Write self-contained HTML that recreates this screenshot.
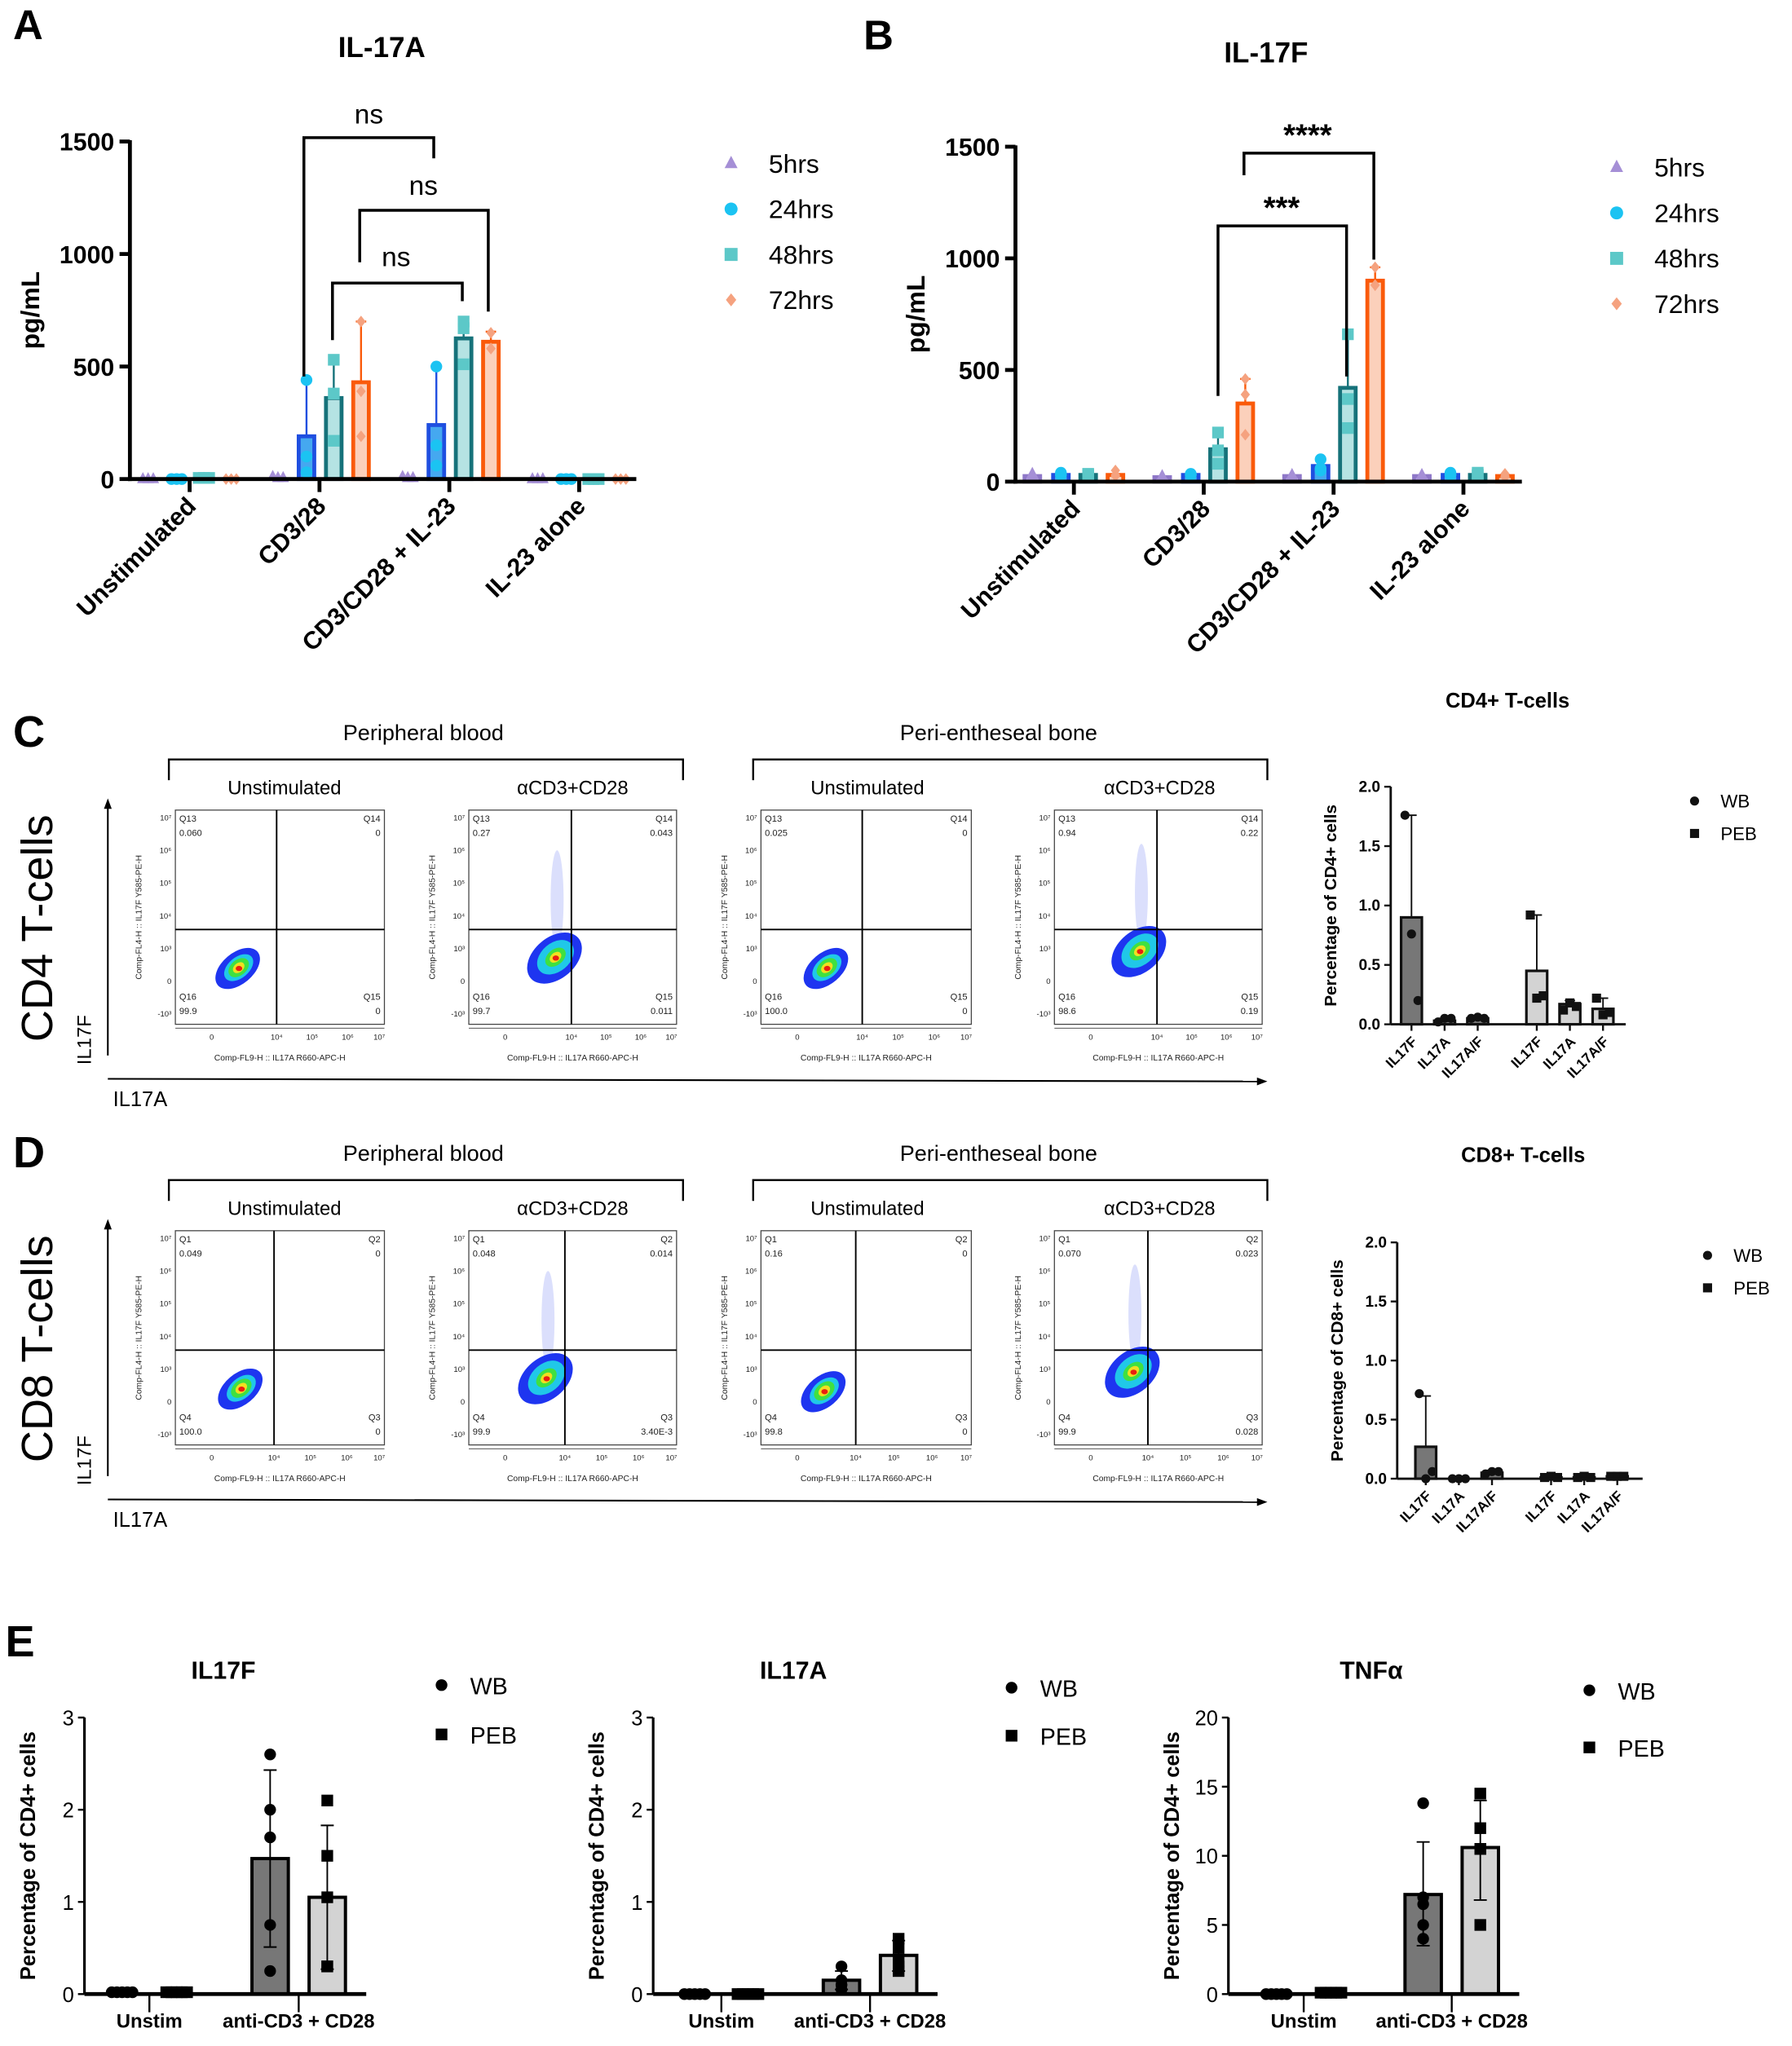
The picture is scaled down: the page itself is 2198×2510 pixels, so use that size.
<!DOCTYPE html>
<html><head><meta charset="utf-8"><style>
html,body{margin:0;padding:0;background:#fff;}
svg{display:block;}
text{font-family:"Liberation Sans",sans-serif;}
</style></head><body>
<svg id="fig" xmlns="http://www.w3.org/2000/svg" width="2198" height="2510" viewBox="0 0 1380 1576">
<rect x="0" y="0" width="1380" height="1576" fill="#fff"/>
</svg>
<script>
// ---------- Panel A data ----------
const aCats = ['Unstimulated','CD3/28','CD3/CD28 + IL-23','IL-23 alone'];
const aSeries = ['5hrs','24hrs','48hrs','72hrs'];
const aMeans = [[0,0,0,0],[0,190,240,0],[0,360,625,0],[0,430,610,0]];
const aErrTop = [[0,0,0,0],[0,440,505,0],[0,530,690,0],[0,700,655,0]];
const aPts = [
  [[0,0,0],[10,5,5],[10,5,5],[0,0,0]],
  [[0,0,0],[440,100,30],[500,150,60],[0,0,0]],
  [[5,5,5],[530,380,170],[700,670,510],[0,0,0]],
  [[0,0,0],[700,390,190],[650,580,580],[0,0,0]]
];
const aTicks = [0,500,1000,1500];
// ---------- Panel B data ----------
const bCats = ['Unstimulated','CD3/28','CD3/CD28 + IL-23','IL-23 alone'];
const bMeans = [[25,20,25,25],[30,30,70,30],[30,145,420,30],[30,350,900,25]];
const bErrTop = [[0,0,0,0],[0,0,100,0],[0,220,660,0],[0,460,960,0]];
const bPts = [
  [[35,25,30],[25,20,20],[30,25,25],[30,25,25]],
  [[40,30,30],[35,30,30],[100,60,50],[40,30,30]],
  [[35,30,30],[220,80,140],[660,370,240],[40,30,30]],
  [[50,30,25],[460,390,210],[960,880,880],[35,25,20]]
];
const bTicks = [0,500,1000,1500];
// ---------- Panel C / D right data ----------
const cdCats = ['IL17F','IL17A','IL17A/F','IL17F','IL17A','IL17A/F'];
const cMeans = [0.9,0.03,0.05,0.45,0.17,0.13];
const cErrTop = [1.76,0.05,0.06,0.92,0.2,0.22];
const cPts = [[1.76,0.76,0.2],[0.02,0.05,0.05],[0.05,0.06,0.05],[0.92,0.22,0.24],[0.12,0.18,0.15],[0.22,0.08,0.1]];
const dMeans = [0.27,0.0,0.05,0.01,0.01,0.02];
const dErrTop = [0.7,0,0.07,0.02,0.02,0.03];
const dPts = [[0.72,0.0,0.06],[0,0,0],[0.04,0.06,0.06],[0.01,0.02,0.01],[0.01,0.02,0.01],[0.02,0.02,0.02]];
const cdTicks = ['0.0','0.5','1.0','1.5','2.0'];
// ---------- Panel E data ----------
const eCats = ['Unstim','anti-CD3 + CD28'];
const eTitles = ['IL17F','IL17A','TNFα'];
const eMax = [3,3,20];
const eTicks = [[0,1,2,3],[0,1,2,3],[0,5,10,15,20]];
const eWB = [[0.02,1.47],[0.0,0.15],[0.0,7.2]];
const ePEB = [[0.02,1.05],[0.0,0.42],[0.1,10.6]];
const eWBerr = [[0.02,2.43],[0,0.25],[0,11.0]];
const eWBerrLo = [[0.02,0.51],[0,0.05],[0,3.5]];
const ePEBerr = [[0.02,1.83],[0,0.58],[0.1,14.0]];
const ePEBerrLo = [[0.02,0.27],[0,0.25],[0.1,6.8]];
const eWBpts = [[2.6,2.0,1.7,0.75,0.25],[0.3,0.15,0.1,0.1,0.05],[13.8,6.5,5.0,4.0,7.0]];
const ePEBpts = [[2.1,1.5,1.05,0.3,0.3],[0.6,0.5,0.35,0.3,0.25],[14.5,12.0,10.5,10.5,5.0]];

const NS='http://www.w3.org/2000/svg';
const svg=document.getElementById('fig');
function mk(tag, attrs, name, parent){
  const el=document.createElementNS(NS,tag);
  for(const k in attrs) el.setAttribute(k, attrs[k]);
  
  
  (parent||svg).appendChild(el);
  return el;
}
function txt(x,y,s,style,name,extra,parent){
  const t=mk('text',Object.assign({x:x,y:y},extra||{}),name,parent);
  t.setAttribute('style',style);
  t.textContent=s;
  return t;
}
function line(x1,y1,x2,y2,stroke,w,name,parent){
  return mk('line',{x1:x1,y1:y1,x2:x2,y2:y2,stroke:stroke,'stroke-width':w},name,parent);
}
function marker(shape,x,y,r,fill,name){
  if(shape==='circle') return mk('circle',{cx:x,cy:y,r:r,fill:fill},name);
  if(shape==='square') return mk('rect',{x:x-r,y:y-r,width:2*r,height:2*r,fill:fill},name);
  if(shape==='tri') return mk('polygon',{points:`${x},${y-r*1.2} ${x-r},${y+r*0.7} ${x+r},${y+r*0.7}`,fill:fill},name);
  return mk('polygon',{points:`${x},${y-r} ${x+r*0.8},${y} ${x},${y+r} ${x-r*0.8},${y}`,fill:fill},name);
}

// ---------- Panel A / B grouped bar ----------
const shapes=['tri','circle','square','diamond'];
const ptCol=['#a58fd6','#1bc3f2','#5cc8c8','#f5a27f'];
const barStroke=['#8f78c8','#1f4fe0','#16727a','#fa5a0a'];
const barFill=['#c8b8ee','#45a8f0','#b5e3e3','#fbd0bb'];
const offs=[-32,-10,11,32];
function grouped(p, cats, means, errTop, pts, ticks){
  const ys=v=>p.yb - v/p.ymax*(p.yb-p.yt);
  txt(p.tx,p.ty,p.title,'font-weight:bold;font-size:22px','chart-title-'+p.id,{'text-anchor':'middle'});
  txt(p.lx,p.ly,p.letter,'font-weight:bold;font-size:32px','panel-label-'+p.id);
  for(let s=0;s<means.length;s++){
    for(let i=0;i<cats.length;i++){
      const xc=p.cx0+i*p.step+offs[s];
      const m=means[s][i];
      if(m>0){
        mk('rect',{x:xc-6,y:ys(m),width:12,height:p.yb-ys(m),fill:barFill[s],stroke:barStroke[s],'stroke-width':3},'bar-'+aSeries[s]+'-'+i);
      }
      if(errTop[s][i]>m){
        line(xc,ys(m),xc,ys(errTop[s][i]),barStroke[s],1.5,'error-bar');
        line(xc-4,ys(errTop[s][i]),xc+4,ys(errTop[s][i]),barStroke[s],1.5,'error-cap');
      }
      const jit=[-4,0,4];
      pts[s][i].forEach((v,k)=>{
        marker(shapes[s],xc+(m>0?0:jit[k]),ys(v),4.5,ptCol[s],'point-'+aSeries[s]);
      });
    }
  }
  line(p.x0,p.yt-1,p.x0,p.yb+1.5,'#000',3,'y-axis-'+p.id);
  line(p.x0-1.5,p.yb,p.xe,p.yb,'#000',3,'x-axis-'+p.id);
  ticks.forEach(t=>{
    line(p.x0-8,ys(t),p.x0,ys(t),'#000',3,'y-tick');
    txt(p.x0-12,ys(t)+7,String(t),'font-weight:bold;font-size:19px','y-tick-label',{'text-anchor':'end'});
  });
  cats.forEach((c,i)=>{
    const xc=p.cx0+i*p.step;
    line(xc,p.yb,xc,p.yb+10,'#000',3,'x-tick');
    txt(xc+6,p.yb+22,c,'font-weight:bold;font-size:19px','x-tick-label',{'text-anchor':'end',transform:`rotate(-45 ${xc+6} ${p.yb+22})`});
  });
  txt(p.x0-70,(p.yt+p.yb)/2,'pg/mL','font-weight:bold;font-size:20px','y-axis-title-'+p.id,{'text-anchor':'middle',transform:`rotate(-90 ${p.x0-70} ${(p.yt+p.yb)/2})`});
  aSeries.forEach((s,k)=>{
    marker(shapes[k],p.legx,p.legy+k*35,5,ptCol[k],'legend-marker-'+s);
    txt(p.legx+29,p.legy+k*35+7,s,'font-size:20px','legend-entry-'+s);
  });
}
grouped({id:'a',title:'IL-17A',tx:294,ty:44,letter:'A',lx:10,ly:30,x0:100,yb:369,yt:109,xe:490,ymax:1500,cx0:146,step:100,legx:563,legy:126},aCats,aMeans,aErrTop,aPts,aTicks);
grouped({id:'b',title:'IL-17F',tx:975,ty:48,letter:'B',lx:665,ly:38,x0:782,yb:371,yt:113,xe:1172,ymax:1500,cx0:827,step:100,legx:1245,legy:129},bCats,bMeans,bErrTop,bPts,bTicks);

function bracket(x1,y1,x2,y2,yTop,label,tx,ty,fs,name){
  mk('polyline',{points:`${x1},${y1} ${x1},${yTop} ${x2},${yTop} ${x2},${y2}`,fill:'none',stroke:'#000','stroke-width':2.2},name);
  txt(tx,ty,label,`font-size:${fs}px;font-weight:${label==='ns'?'normal':'bold'}`,name+'-label',{'text-anchor':'middle'});
}
bracket(234,290,334,122,106,'ns',284,95,21,'significance-bracket-1');
bracket(277,202,376,240,162,'ns',326,150,21,'significance-bracket-2');
bracket(256,262,356,232,218,'ns',305,205,21,'significance-bracket-3');
bracket(958,135,1058,200,118,'****',1007,112,24,'significance-bracket-4');
bracket(938,305,1037,290,174,'***',987,168,24,'significance-bracket-5');

// ---------- Flow cytometry plots (decorative) ----------
function flowPlot(x,y,w,h,vx,hy,q,blob,stim,name){
  const g=mk('g',{},name);
  mk('rect',{x:x,y:y,width:w,height:h,fill:'#fff',stroke:'#444','stroke-width':0.8},'flow-plot-frame',g);
  const ex=blob[0],ey=blob[1];
  if(stim){
    mk('ellipse',{cx:ex+2,cy:ey-45,rx:5,ry:38,fill:'#3a4cf0',opacity:0.18},'flow-tail',g);
  }
  mk('ellipse',{cx:ex,cy:ey,rx:stim?24:20,ry:stim?16:12,fill:'#1e35f0',transform:`rotate(-40 ${ex} ${ey})`},'flow-density-outer',g);
  mk('ellipse',{cx:ex+1,cy:ey,rx:stim?16:13,ry:stim?11:8,fill:'#20c8e8',transform:`rotate(-40 ${ex} ${ey})`},'flow-density-mid',g);
  mk('ellipse',{cx:ex+1,cy:ey,rx:9,ry:6,fill:'#40e040',transform:`rotate(-40 ${ex} ${ey})`},'flow-density-inner',g);
  mk('ellipse',{cx:ex+1,cy:ey,rx:5,ry:3.5,fill:'#f0e020',transform:`rotate(-40 ${ex} ${ey})`},'flow-density-core',g);
  mk('ellipse',{cx:ex+1,cy:ey,rx:2.5,ry:2,fill:'#e82010'},'flow-density-peak',g);
  line(vx,y,vx,y+h,'#000',1.2,'quadrant-line-vertical',g);
  line(x,hy,x+w,hy,'#000',1.2,'quadrant-line-horizontal',g);
  const st='font-size:7px;fill:#222';
  txt(x+3,y+9,q[0],st,'quadrant-name',{},g); txt(x+3,y+20,q[1],st,'quadrant-value',{},g);
  txt(x+w-3,y+9,q[2],st,'quadrant-name',{'text-anchor':'end'},g); txt(x+w-3,y+20,q[3],st,'quadrant-value',{'text-anchor':'end'},g);
  txt(x+3,y+h-19,q[4],st,'quadrant-name',{},g); txt(x+3,y+h-8,q[5],st,'quadrant-value',{},g);
  txt(x+w-3,y+h-19,q[6],st,'quadrant-name',{'text-anchor':'end'},g); txt(x+w-3,y+h-8,q[7],st,'quadrant-value',{'text-anchor':'end'},g);
  ['10⁷','10⁶','10⁵','10⁴','10³','0','-10³'].forEach((t,k)=>{
    txt(x-3,y+8+k*(h-14)/6,t,'font-size:6px;fill:#222','flow-y-tick',{'text-anchor':'end'},g);
  });
  ['0','10⁴','10⁵','10⁶','10⁷'].forEach((t,k)=>{
    const px=[x+28,vx,vx+(x+w-vx)*0.33,vx+(x+w-vx)*0.66,x+w-4][k];
    txt(px,y+h+12,t,'font-size:6px;fill:#222','flow-x-tick',{'text-anchor':'middle'},g);
  });
  line(x,y+h+3,x+w,y+h+3,'#555',0.6,'flow-x-axis',g);
  txt(x+w/2,y+h+28,'Comp-FL9-H :: IL17A R660-APC-H','font-size:6.5px;fill:#222','flow-x-title',{'text-anchor':'middle'},g);
  txt(x-26,y+h/2,'Comp-FL4-H :: IL17F Y585-PE-H','font-size:6.5px;fill:#222','flow-y-title',{'text-anchor':'middle',transform:`rotate(-90 ${x-26} ${y+h/2})`},g);
}
function flowRow(y0,letter,cellLabel,qsets,vxs,hy,blobs,pfx){
  txt(10,y0+10,letter,'font-weight:bold;font-size:34px','panel-label-'+letter);
  txt(326,y0+5,'Peripheral blood','font-size:17px','group-label-peripheral-blood',{'text-anchor':'middle'});
  txt(769,y0+5,'Peri-entheseal bone','font-size:17px','group-label-peri-entheseal-bone',{'text-anchor':'middle'});
  mk('polyline',{points:`130,${y0+36} 130,${y0+20} 526,${y0+20} 526,${y0+36}`,fill:'none',stroke:'#000','stroke-width':1.5},'group-bracket');
  mk('polyline',{points:`580,${y0+36} 580,${y0+20} 976,${y0+20} 976,${y0+36}`,fill:'none',stroke:'#000','stroke-width':1.5},'group-bracket');
  const subs=['Unstimulated','αCD3+CD28','Unstimulated','αCD3+CD28'];
  const xs=[135,361,586,812];
  subs.forEach((s,k)=>txt([219,441,668,893][k],y0+47,s,'font-size:15px','condition-label',{'text-anchor':'middle'}));
  xs.forEach((x,k)=>flowPlot(x,y0+59,[161,160,162,160][k],165,vxs[k],hy,qsets[k],blobs[k],k%2===1,'flow-plot-'+pfx+'-'+k));
  txt(50,y0+160,cellLabel,'font-size:34px','cell-type-label',{'text-anchor':'middle',transform:`rotate(-90 40 ${y0+160})`});
  txt(70,y0+236,'IL17F','font-size:15px','y-axis-arrow-label',{'text-anchor':'middle',transform:`rotate(-90 70 ${y0+236})`});
  line(83,y0+248,83,y0+56,'#000',1.3,'y-axis-arrow');
  mk('polygon',{points:`83,${y0+50} 80,${y0+58} 86,${y0+58}`,fill:'#000'},'arrow-head');
  line(83,y0+266,970,y0+268,'#000',1.3,'x-axis-arrow');
  mk('polygon',{points:`976,${y0+268} 968,${y0+265} 968,${y0+271}`,fill:'#000'},'arrow-head');
  txt(87,y0+287,'IL17A','font-size:16px','x-axis-arrow-label');
}
flowRow(565,'C','CD4 T-cells',
  [['Q13','0.060','Q14','0','Q16','99.9','Q15','0'],['Q13','0.27','Q14','0.043','Q16','99.7','Q15','0.011'],['Q13','0.025','Q14','0','Q16','100.0','Q15','0'],['Q13','0.94','Q14','0.22','Q16','98.6','Q15','0.19']],
  [213,440,664,891],716,[[183,746],[427,738],[636,746],[877,733]],'c');
flowRow(889,'D','CD8 T-cells',
  [['Q1','0.049','Q2','0','Q4','100.0','Q3','0'],['Q1','0.048','Q2','0.014','Q4','99.9','Q3','3.40E-3'],['Q1','0.16','Q2','0','Q4','99.8','Q3','0'],['Q1','0.070','Q2','0.023','Q4','99.9','Q3','0.028']],
  [211,435,659,884],1040,[[185,1070],[420,1062],[634,1072],[872,1057]],'d');

// ---------- Panel C/D right bar charts ----------
function smallBar(p,means,errTop,pts){
  const ys=v=>p.yb - v/2*(p.yb-p.yt);
  txt(p.tx,p.ty,p.title,'font-weight:bold;font-size:16px','chart-title-'+p.id,{'text-anchor':'middle'});
  means.forEach((m,i)=>{
    const xc=p.bx0+i*25.5+(i>=3?20:0);
    const fill=i<3?'#777':'#d3d3d3';
    if(m>0) mk('rect',{x:xc-8,y:ys(m),width:16,height:p.yb-ys(m),fill:fill,stroke:'#111','stroke-width':2},'bar-'+cdCats[i]+(i<3?'-wb':'-peb'));
    if(errTop[i]>m){
      line(xc,ys(m),xc,ys(errTop[i]),'#111',1.2,'error-bar');
      line(xc-4,ys(errTop[i]),xc+4,ys(errTop[i]),'#111',1.2,'error-cap');
    }
    pts[i].forEach((v,k)=>marker(i<3?'circle':'square',xc+[-5,0,5][k],ys(v),3.5,'#111','point'));
    txt(xc+5,p.yb+14,cdCats[i],'font-weight:bold;font-size:11px','x-tick-label',{'text-anchor':'end',transform:`rotate(-45 ${xc+5} ${p.yb+14})`});
    line(xc,p.yb,xc,p.yb+5,'#111',1.5,'x-tick');
  });
  line(p.x0,p.yt,p.x0,p.yb,'#111',1.8,'y-axis-'+p.id);
  line(p.x0,p.yb,p.xe,p.yb,'#111',1.8,'x-axis-'+p.id);
  cdTicks.forEach(t=>{
    const yy=ys(parseFloat(t));
    line(p.x0-5,yy,p.x0,yy,'#111',1.5,'y-tick');
    txt(p.x0-8,yy+4,t,'font-weight:bold;font-size:12px','y-tick-label',{'text-anchor':'end'});
  });
  const cy=(p.yt+p.yb)/2;
  txt(p.x0-42,cy,p.ylab,'font-weight:bold;font-size:13px','y-axis-title-'+p.id,{'text-anchor':'middle',transform:`rotate(-90 ${p.x0-42} ${cy})`});
  marker('circle',p.legx,p.legy,3.5,'#111','legend-marker-wb');
  txt(p.legx+20,p.legy+5,'WB','font-size:14px','legend-entry-wb');
  marker('square',p.legx,p.legy+25,3.5,'#111','legend-marker-peb');
  txt(p.legx+20,p.legy+30,'PEB','font-size:14px','legend-entry-peb');
}
smallBar({id:'c',title:'CD4+ T-cells',tx:1161,ty:545,x0:1071,yt:606,yb:789,xe:1252,bx0:1087,ylab:'Percentage of CD4+ cells',legx:1305,legy:617},cMeans,cErrTop,cPts);
smallBar({id:'d',title:'CD8+ T-cells',tx:1173,ty:895,x0:1076,yt:957,yb:1139,xe:1265,bx0:1098,ylab:'Percentage of CD8+ cells',legx:1315,legy:967},dMeans,dErrTop,dPts);

// ---------- Panel E ----------
txt(4,1276,'E','font-weight:bold;font-size:34px','panel-label-E');
const eLayout=[{x0:65,xe:282,u:[94,136],s:[208,252],tx:172,legx:340,legy:1298,legd:38},
               {x0:503,xe:722,u:[535,576],s:[648,692],tx:611,legx:779,legy:1300,legd:37},
               {x0:946,xe:1170,u:[983,1025],s:[1096,1140],tx:1056,legx:1224,legy:1302,legd:44}];
eTitles.forEach((t,c)=>{
  const L=eLayout[c], yb=1536, yt=1323;
  const ys=v=>yb - v/eMax[c]*(yb-yt);
  txt(L.tx,1293,t,'font-weight:bold;font-size:19px','chart-title-e-'+c,{'text-anchor':'middle'});
  eCats.forEach((cat,i)=>{
    const xw=i===0?L.u[0]:L.s[0], xp=i===0?L.u[1]:L.s[1];
    const mw=eWB[c][i], mp=ePEB[c][i];
    if(i===1){
      mk('rect',{x:xw-14,y:ys(mw),width:28,height:yb-ys(mw),fill:'#777',stroke:'#000','stroke-width':2.5},'bar-wb-'+t);
      mk('rect',{x:xp-14,y:ys(mp),width:28,height:yb-ys(mp),fill:'#d3d3d3',stroke:'#000','stroke-width':2.5},'bar-peb-'+t);
      line(xw,ys(eWBerrLo[c][i]),xw,ys(eWBerr[c][i]),'#000',1.2,'error-bar');
      line(xw-5,ys(eWBerr[c][i]),xw+5,ys(eWBerr[c][i]),'#000',1.2,'error-cap');
      line(xw-5,ys(eWBerrLo[c][i]),xw+5,ys(eWBerrLo[c][i]),'#000',1.2,'error-cap');
      line(xp,ys(ePEBerrLo[c][i]),xp,ys(ePEBerr[c][i]),'#000',1.2,'error-bar');
      line(xp-5,ys(ePEBerr[c][i]),xp+5,ys(ePEBerr[c][i]),'#000',1.2,'error-cap');
      line(xp-5,ys(ePEBerrLo[c][i]),xp+5,ys(ePEBerrLo[c][i]),'#000',1.2,'error-cap');
      eWBpts[c].forEach((v,k)=>marker('circle',xw,ys(v),4.5,'#000','point-wb'));
      ePEBpts[c].forEach((v,k)=>marker('square',xp,ys(v),4.5,'#000','point-peb'));
    } else {
      [-8,-4,0,4,8].forEach(d=>{marker('circle',xw+d,ys(mw),4.5,'#000','point-wb');marker('square',xp+d,ys(mp),4.5,'#000','point-peb');});
    }
    const tx=(xw+xp)/2;
    line(tx,yb,tx,yb+14,'#000',1.5,'x-tick');
    txt(tx,yb+26,cat,'font-weight:bold;font-size:15px','x-tick-label',{'text-anchor':'middle'});
  });
  line(L.x0,yt,L.x0,yb,'#000',2,'y-axis-e-'+c);
  line(L.x0,yb,L.xe,yb,'#000',3,'x-axis-e-'+c);
  eTicks[c].forEach(v=>{
    line(L.x0-5,ys(v),L.x0,ys(v),'#000',1.5,'y-tick');
    txt(L.x0-8,ys(v)+6,String(v),'font-size:16px','y-tick-label',{'text-anchor':'end'});
  });
  const cy=(yt+yb)/2, lx=L.x0-38;
  txt(lx,cy,'Percentage of CD4+ cells','font-weight:bold;font-size:16px','y-axis-title-e-'+c,{'text-anchor':'middle',transform:`rotate(-90 ${lx} ${cy})`});
  marker('circle',L.legx,L.legy,4.5,'#000','legend-marker-wb');
  txt(L.legx+22,L.legy+7,'WB','font-size:18px','legend-entry-wb');
  marker('square',L.legx,L.legy+L.legd,4.5,'#000','legend-marker-peb');
  txt(L.legx+22,L.legy+L.legd+7,'PEB','font-size:18px','legend-entry-peb');
});
</script>
</body></html>
